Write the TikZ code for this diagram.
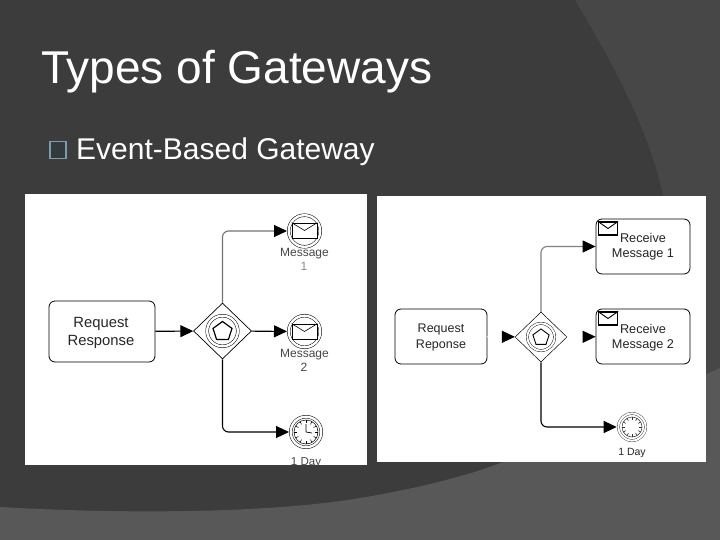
\documentclass[tikz,border=0pt]{standalone}
\usepackage{fontspec}
\setmainfont{Liberation Sans}
\usepackage{tikz}
\usetikzlibrary{arrows.meta}
\usetikzlibrary{shapes.geometric,calc}
\definecolor{slidedark}{RGB}{60,60,60}
\definecolor{slidemid}{RGB}{71,71,71}
\definecolor{slidelight}{RGB}{88,88,88}
\definecolor{bulletline}{RGB}{125,155,168}
\definecolor{bulletfill}{RGB}{50,58,62}
\definecolor{labelgrey}{RGB}{70,70,70}
\newcommand{\sizedfont}[1]{\fontsize{#1}{#1}\selectfont}
\tikzset{
	taskbox/.style={draw=black,line width=0.8pt,rounded corners=6pt,fill=white,inner sep=0pt,align=center,text=black!85},
	tasktext/.style={anchor=base,inner sep=0pt,text=black!85},
	gateway/.style={draw=black,line width=0.7pt,diamond,aspect=1,inner sep=0pt,fill=white},
	ringed/.style={draw=black,circle,line width=0.5pt,double=white,double distance=2.4pt,inner sep=0pt,outer sep=1.7pt,fill=white},
	pentagon/.style={draw=black,regular polygon,regular polygon sides=5,inner sep=0pt,line width=1.2pt},
	mailicon/.style={draw=black,fill=white,rectangle,inner sep=0pt},
	clockface/.style={draw=black,circle,line width=0.5pt,inner sep=0pt},
	eventlabel/.style={anchor=base,text=labelgrey,inner sep=0pt},
	flowline/.style={draw=black,line width=1.1pt,rounded corners=6pt},
	faintline/.style={draw=white,line width=1.1pt},
	>={Triangle[black,length=13pt,width=12pt]}
}
\begin{document}
\begin{tikzpicture}[x=1pt,y=-1pt]
	\fill [slidedark] (0,0) rectangle (720,540);
	\fill [slidemid] (575,0) .. controls (620,75) and (650,135) .. (663,195) .. controls (675,250) and (690,310) .. (700,380) -- (720,380) -- (720,0) -- cycle;
	\fill [slidelight] (0,507) .. controls (100,513) and (260,515) .. (360,498) .. controls (420,488) and (470,475) .. (503,462) .. controls (570,435) and (650,400) .. (720,368) -- (720,540) -- (0,540) -- cycle;
	\fill [white] (25,194) rectangle (367,465);
	\fill [white] (377,196) rectangle (706,462);

	\node (title) [anchor=base west,inner sep=0pt,text=white] at (41,84) {\sizedfont{46}Types of Gateways};
	\node (bullet) [draw=bulletline,fill=bulletfill,line width=1.2pt,minimum width=16pt,minimum height=17pt,inner sep=0pt] at (58,150) {};
	\node (subtitle) [anchor=base west,inner sep=0pt,text=white] at (76,160) {\sizedfont{30}Event-Based Gateway};

	\begin{scope}
		\clip (25,194) rectangle (367,465);
		\node (dayL) [eventlabel] at (306,465) {\sizedfont{11.5}1 Day};
	\end{scope}

	\node (taskL) [taskbox,minimum width=106pt,minimum height=61pt] at (102,331.5) {};
	\node (taskLa) [tasktext] at (101,327.5) {\sizedfont{14.8}Request};
	\node (taskLb) [tasktext] at (101,345) {\sizedfont{14.8}Response};
	\node (gwL) [gateway,minimum width=58pt,minimum height=56pt] at (222.5,331) {};
	\node (ringL) [ringed,minimum size=30.6pt] at (222.5,331) {};
	\node (pentL) [pentagon,minimum size=20pt] at (222.5,331.5) {};
	\node (msgA) [ringed,minimum size=31.6pt] at (304.5,231) {};
	\node (msgB) [ringed,minimum size=31.6pt] at (304.5,331.5) {};
	\node (timerL) [ringed,minimum size=30.6pt] at (306,432) {};
	\node (mailA) [mailicon,line width=0.6pt,minimum width=25pt,minimum height=15pt] at (304.5,230.5) {};
	\node (mailB) [mailicon,line width=0.6pt,minimum width=25pt,minimum height=15pt] at (304.5,331.5) {};
	\draw [line width=0.6pt] (mailA.north west) -- (mailA.center) -- (mailA.north east);
	\draw [line width=0.6pt] (mailB.north west) -- (mailB.center) -- (mailB.north east);
	\node (faceL) [clockface,minimum size=24pt] at (306,432) {};
	\foreach \a in {0,30,...,330}
		\draw [line width=0.5pt] (faceL.\a) -- ($(faceL.center)!0.72!(faceL.\a)$);
	\draw [line width=0.7pt] (faceL.center) -- ++(0,-8) (faceL.center) -- ++(6,1);
	\node (labelAa) [eventlabel] at (304.5,256) {\sizedfont{12}Message};
	\node (labelAb) [eventlabel,text=black!45] at (304,270) {\sizedfont{12}1};
	\node (labelBa) [eventlabel] at (304.5,357.5) {\sizedfont{12}Message};
	\node (labelBb) [eventlabel] at (304,371) {\sizedfont{12}2};

	\begin{scope}[every path/.style={flowline}]
		\draw [->] (taskL) -- (gwL);
		\draw [->] (gwL) -- (msgB);
		\draw [->,draw=black!55] (gwL.north) |- (msgA);
		\draw [->] (gwL.south) |- (timerL);
	\end{scope}

	\node (taskR) [taskbox,minimum width=92pt,minimum height=55pt] at (441,336.5) {};
	\node (taskRa) [tasktext] at (441,332.5) {\sizedfont{12.5}Request};
	\node (taskRb) [tasktext] at (441,348) {\sizedfont{12.5}Reponse};
	\node (gwR) [gateway,line width=0.5pt,minimum width=52pt,minimum height=50pt] at (541,337) {};
	\node (ringR) [ringed,line width=0.4pt,double distance=2pt,minimum size=27.2pt] at (541,337) {};
	\node (pentR) [pentagon,line width=0.9pt,minimum size=17pt] at (541,337.5) {};
	\node (recvA) [taskbox,minimum width=94pt,minimum height=55pt] at (643,246.5) {};
	\node (recvB) [taskbox,minimum width=94pt,minimum height=55pt] at (643,336.5) {};
	\node (recvAa) [tasktext] at (643,243) {\sizedfont{12.7}Receive};
	\node (recvAb) [tasktext] at (643,258) {\sizedfont{12.7}Message 1};
	\node (recvBa) [tasktext] at (643,333) {\sizedfont{12.7}Receive};
	\node (recvBb) [tasktext] at (643,348) {\sizedfont{12.7}Message 2};
	\node (mailC) [mailicon,line width=1.2pt,minimum width=19pt,minimum height=13pt] at (608,228.5) {};
	\node (mailD) [mailicon,line width=1.2pt,minimum width=19pt,minimum height=13pt] at (608,318.5) {};
	\draw [line width=0.9pt] (mailC.north west) -- (mailC.center) -- (mailC.north east);
	\draw [line width=0.9pt] (mailD.north west) -- (mailD.center) -- (mailD.north east);
	\node (timerR) [ringed,line width=0.4pt,double distance=2pt,draw=black!80,minimum size=27.2pt] at (632,427) {};
	\node (faceR) [clockface,draw=black!80,minimum size=20pt] at (632,427) {};
	\foreach \a in {0,30,...,330}
		\draw [line width=0.6pt,black!80] (faceR.\a) -- ($(faceR.center)!0.7!(faceR.\a)$);
	\node (dayR) [eventlabel,text=black!85] at (632,455.5) {\sizedfont{10.5}1 Day};

	\begin{scope}[every path/.style={flowline}]
		\draw [->,faintline] (taskR) -- (gwR);
		\draw [->,faintline] (gwR) -- (recvB);
		\draw [->,draw=black!50] (gwR.north) |- (recvA);
		\draw [->] (gwR.south) |- (timerR);
	\end{scope}
\end{tikzpicture}
\end{document}
